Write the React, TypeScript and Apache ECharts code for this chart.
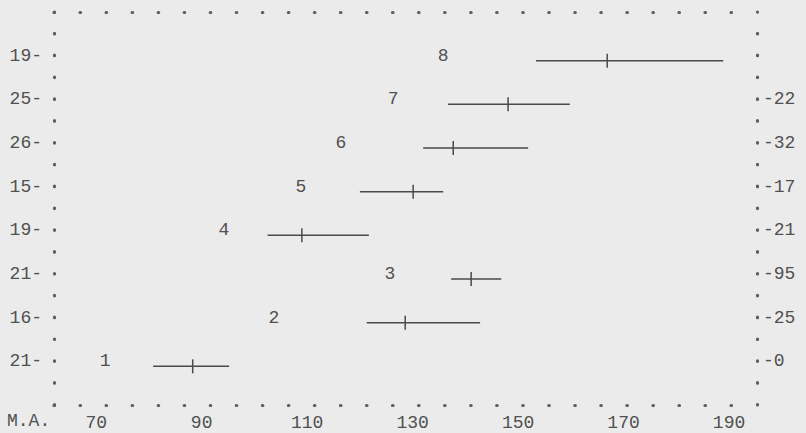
import React, { useEffect, useRef } from "react";
import * as echarts from "echarts";

// Rows 1..8 (bottom to top)
const rows = [1, 2, 3, 4, 5, 6, 7, 8];
const leftLabels = ["21", "16", "21", "19", "15", "26", "25", "19"];
const rightLabels = ["0", "25", "95", "21", "17", "32", "22"];
const lowValues = [80.8, 121.3, 137.3, 102.5, 120.0, 132.0, 136.7, 153.4];
const midValues = [88.3, 128.6, 141.1, 109.0, 130.1, 137.7, 148.1, 166.9];
const highValues = [95.2, 142.8, 146.8, 121.7, 135.8, 151.9, 159.8, 188.9];
const numberLabelX = [71.7, 103.7, 125.7, 94.2, 108.8, 116.4, 126.3, 135.8];
const xTickLabels = [70, 90, 110, 130, 150, 170, 190];

const FONT = "'Courier New', 'Liberation Mono', monospace";
const INK = "#505050";
const PAPER = "#ebebeb";

export default function App() {
  const ref = useRef<HTMLDivElement>(null);
  useEffect(() => {
    if (!ref.current) return;
    const chart = echarts.init(ref.current, null, { renderer: "svg" });
    const hDots = { color: "#5e5e5e", width: 3.2, type: [0.5, 25.54], cap: "round" };
    const vDots = { color: "#5e5e5e", width: 3.2, type: [0.5, 21.33], cap: "round" };
    const barData = rows.map((r, i) => [r, lowValues[i], midValues[i], highValues[i]]);
    const numData = rows.map((r, i) => [numberLabelX[i], r, String(r)]);
    chart.setOption({
      animation: false,
      backgroundColor: PAPER,
      grid: { left: 54, right: 49, top: 12, bottom: 28, containLabel: false },
      xAxis: [
        {
          type: "value",
          position: "bottom",
          min: 62,
          max: 195.3,
          axisLine: { show: true, onZero: false, lineStyle: hDots },
          axisTick: { show: false },
          splitLine: { show: false },
          axisLabel: {
            customValues: xTickLabels,
            margin: 9,
            fontSize: 18,
            fontFamily: FONT,
            color: INK,
          },
        },
        {
          type: "value",
          position: "top",
          min: 62,
          max: 195.3,
          axisLine: { show: true, onZero: false, lineStyle: hDots },
          axisTick: { show: false },
          splitLine: { show: false },
          axisLabel: { show: false },
        },
      ],
      yAxis: [
        {
          type: "value",
          position: "left",
          min: 0,
          max: 9,
          axisLine: { show: true, onZero: false, lineStyle: vDots },
          axisTick: { show: false },
          splitLine: { show: false },
          axisLabel: {
            customValues: rows,
            formatter: (v: number) => leftLabels[Math.round(v) - 1] + "-",
            margin: 12,
            fontSize: 18,
            fontFamily: FONT,
            color: INK,
          },
        },
        {
          type: "value",
          position: "right",
          min: 0,
          max: 9,
          axisLine: { show: true, onZero: false, lineStyle: vDots },
          axisTick: { show: false },
          splitLine: { show: false },
          axisLabel: {
            customValues: rows.slice(0, rightLabels.length),
            formatter: (v: number) => "-" + rightLabels[Math.round(v) - 1],
            margin: 6,
            fontSize: 18,
            fontFamily: FONT,
            color: INK,
          },
        },
      ],
      graphic: [
        {
          type: "text",
          left: 7,
          top: 412,
          style: { text: "M.A.", fontSize: 18, fontFamily: FONT, fill: INK },
        },
      ],
      series: [
        {
          type: "custom",
          xAxisIndex: 0,
          yAxisIndex: 0,
          data: barData,
          renderItem: (params: any, api: any) => {
            const row = api.value(0);
            const p1 = api.coord([api.value(1), row]);
            const pm = api.coord([api.value(2), row]);
            const p2 = api.coord([api.value(3), row]);
            const dy = 5;
            const st = { stroke: "#4a4a4a", lineWidth: 1.5 };
            return {
              type: "group",
              children: [
                { type: "line", shape: { x1: p1[0], y1: p1[1] + dy, x2: p2[0], y2: p2[1] + dy }, style: st },
                { type: "line", shape: { x1: pm[0], y1: pm[1] + dy - 7, x2: pm[0], y2: pm[1] + dy + 7 }, style: st },
              ],
            };
          },
        },
        {
          type: "custom",
          xAxisIndex: 0,
          yAxisIndex: 0,
          data: numData,
          renderItem: (params: any, api: any) => {
            const p = api.coord([api.value(0), api.value(1)]);
            return {
              type: "text",
              x: p[0],
              y: p[1],
              style: {
                text: numData[params.dataIndex][2],
                fontSize: 18,
                fontFamily: FONT,
                fill: INK,
                align: "center",
                verticalAlign: "middle",
              },
            };
          },
        },
      ],
    });
    return () => chart.dispose();
  }, []);
  return (
    <div
      ref={ref}
      style={{ position: "fixed", left: 0, top: 0, width: 806, height: 433, background: PAPER }}
    />
  );
}
